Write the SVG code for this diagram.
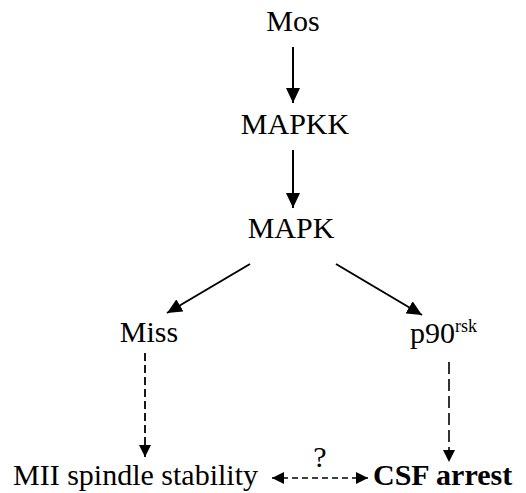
<svg xmlns="http://www.w3.org/2000/svg" width="526" height="493" viewBox="0 0 526 493">
<defs>
<style>
text{font-family:"Liberation Serif","Times New Roman",serif;font-size:30px;fill:#000}
.b{font-weight:bold}
.sup{font-size:18px}
.solid{stroke:#000;stroke-width:2;fill:none}
.dash{stroke:#000;stroke-width:1.8;fill:none;stroke-dasharray:8 4}
.dash2{stroke:#000;stroke-width:1.6;fill:none;stroke-dasharray:12 5}
.dash3{stroke:#000;stroke-width:1.6;fill:none;stroke-dasharray:6 4}
</style>
<marker id="ah" markerUnits="userSpaceOnUse" markerWidth="15" markerHeight="14" refX="15" refY="7" orient="auto">
<path d="M0,0 L15,7 L0,14 z" fill="#000"/>
</marker>
<marker id="ahs" markerUnits="userSpaceOnUse" markerWidth="12" markerHeight="12" refX="12" refY="6" orient="auto-start-reverse">
<path d="M0,0 L12,6 L0,12 z" fill="#000"/>
</marker>
</defs>
<g id="connectors">
<line class="solid" x1="293" y1="47" x2="293" y2="103" marker-end="url(#ah)"/>
<line class="solid" x1="293" y1="150" x2="293" y2="208" marker-end="url(#ah)"/>
<line class="solid" x1="250" y1="264" x2="167" y2="313" marker-end="url(#ah)"/>
<line class="solid" x1="336" y1="264" x2="422" y2="315" marker-end="url(#ah)"/>
<line class="dash" x1="145" y1="353" x2="145" y2="457" marker-end="url(#ahs)"/>
<line class="dash2" x1="449" y1="362" x2="449" y2="462" marker-end="url(#ahs)"/>
<line class="dash3" x1="272" y1="478" x2="368" y2="478" marker-start="url(#ahs)" marker-end="url(#ahs)"/>
<text x="320" y="467" text-anchor="middle">?</text>
</g>
<g id="mos"><text x="293" y="31" text-anchor="middle">Mos</text></g>
<g id="mapkk"><text x="295" y="134" text-anchor="middle">MAPKK</text></g>
<g id="mapk"><text x="291" y="238" text-anchor="middle">MAPK</text></g>
<g id="miss"><text x="149" y="342" text-anchor="middle">Miss</text></g>
<g id="p90rsk"><text x="410" y="343">p90<tspan class="sup" dy="-11">rsk</tspan></text></g>
<g id="mii"><text x="13" y="485">MII spindle stability</text></g>
<g id="csf"><text class="b" x="373" y="485">CSF arrest</text></g>
</svg>
